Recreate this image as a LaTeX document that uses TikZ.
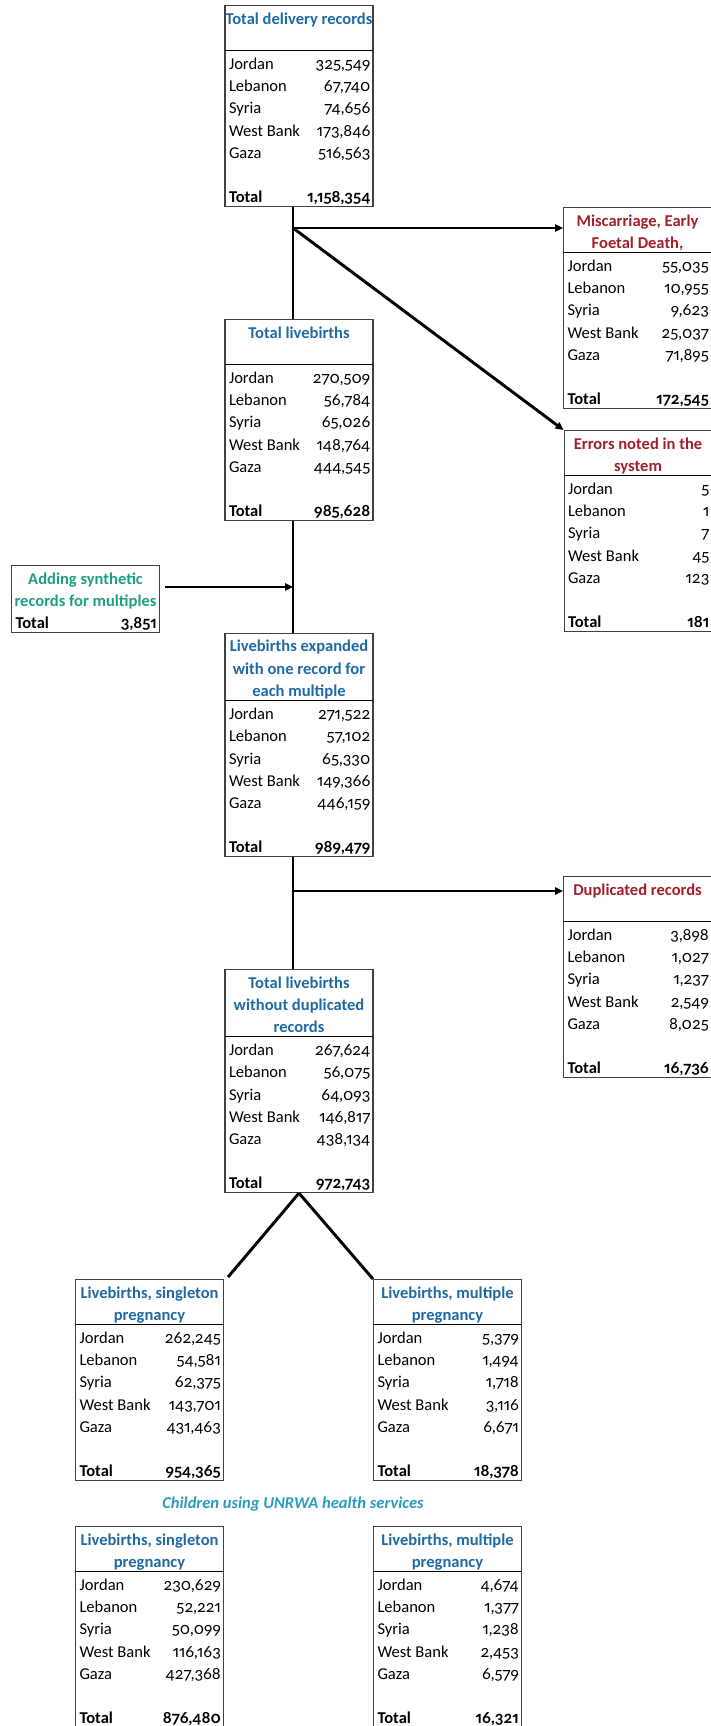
\documentclass[tikz,border=0pt]{standalone}
\usepackage{fontspec}
\setmainfont{Carlito}
\newfontfamily\nf{Lato}[Numbers={OldStyle,Proportional}, Scale=0.98]
\usepackage{array}
\usepackage{tikz}
\usetikzlibrary{arrows.meta, positioning, calc}

\definecolor{hdblue}{RGB}{31,106,165}
\definecolor{hdred}{RGB}{163,32,42}
\definecolor{hdgreen}{RGB}{30,160,130}
\definecolor{capcyan}{RGB}{42,155,192}

\setlength{\arrayrulewidth}{0.8pt}
\renewcommand{\arraystretch}{0.5}
\newcommand{\rowstrut}{\rule[-2.75pt]{0pt}{16.65pt}}
\newcolumntype{L}{>{\rowstrut}p{56pt}}
\newcolumntype{R}{>{\raggedleft\arraybackslash\nf}p{50pt}}
% header line spanning both columns
\newcommand{\hd}[2]{\multicolumn{2}{@{}>{\rowstrut\color{#1}\bfseries}c@{}}{\makebox[0pt]{#2}}}
% the five fields and the total
\newcommand{\rows}[6]{\hline Jordan & #1\\ Lebanon & #2\\ Syria & #3\\ West Bank & #4\\ Gaza & #5\\ & \\ \textbf{Total} & \textbf{#6}}
\newenvironment{ctab}{\begin{tabular}{@{\hspace{3pt}}L@{}R@{\hspace{2pt}}}}{\end{tabular}}

\begin{document}
\begin{tikzpicture}[
  x=0.75pt, y=-0.75pt,
  tbox/.style={draw=black!75, line width=0.8pt, inner sep=0pt, font=\fontsize{12.4pt}{14pt}\selectfont},
  link/.style={line width=2.2pt},
  arr/.style={link, -{Triangle[length=6pt, width=5.5pt]}},
  node distance=84pt
]
\useasboundingbox (0,0) rectangle (710,1726);
\coordinate (spine) at (293,0);

% main column
\node[tbox, anchor=north] (delivery) at (299,5) {\begin{ctab}
  \hd{hdblue}{Total delivery records}\\ \hd{hdblue}{}\\
  \rows{325,549}{67,740}{74,656}{173,846}{516,563}{1,158,354}
\end{ctab}};
\node[tbox, below=of delivery] (live) {\begin{ctab}
  \hd{hdblue}{Total livebirths}\\ \hd{hdblue}{}\\
  \rows{270,509}{56,784}{65,026}{148,764}{444,545}{985,628}
\end{ctab}};
\node[tbox, below=of live] (expanded) {\begin{ctab}
  \hd{hdblue}{Livebirths expanded}\\ \hd{hdblue}{with one record for}\\ \hd{hdblue}{each multiple}\\
  \rows{271,522}{57,102}{65,330}{149,366}{446,159}{989,479}
\end{ctab}};
\node[tbox, below=of expanded] (nodup) {\begin{ctab}
  \hd{hdblue}{Total livebirths}\\ \hd{hdblue}{without duplicated}\\ \hd{hdblue}{records}\\
  \rows{267,624}{56,075}{64,093}{146,817}{438,134}{972,743}
\end{ctab}};

% side boxes
\node[tbox, anchor=north west] (misc) at (563,207) {\begin{ctab}
  \hd{hdred}{Miscarriage, Early}\\ \hd{hdred}{Foetal Death,}\\
  \rows{55,035}{10,955}{9,623}{25,037}{71,895}{172,545}
\end{ctab}};
\node[tbox, anchor=north west] (errors) at (563.5,430) {\begin{ctab}
  \hd{hdred}{Errors noted in the}\\ \hd{hdred}{system}\\
  \rows{5}{1}{7}{45}{123}{181}
\end{ctab}};
\node[tbox, anchor=north west] (dup) at (563,876) {\begin{ctab}
  \hd{hdred}{Duplicated records}\\ \hd{hdred}{}\\
  \rows{3,898}{1,027}{1,237}{2,549}{8,025}{16,736}
\end{ctab}};
\node[tbox, anchor=north west] (adding) at (11,565) {\begin{ctab}
  \hd{hdgreen}{Adding synthetic}\\ \hd{hdgreen}{records for multiples}\\
  \textbf{Total} & \textbf{3,851}
\end{ctab}};

% split by pregnancy
\node[tbox, anchor=north west] (single) at (75,1279) {\begin{ctab}
  \hd{hdblue}{Livebirths, singleton}\\ \hd{hdblue}{pregnancy}\\
  \rows{262,245}{54,581}{62,375}{143,701}{431,463}{954,365}
\end{ctab}};
\node[tbox, anchor=north west] (multi) at (373,1279) {\begin{ctab}
  \hd{hdblue}{Livebirths, multiple}\\ \hd{hdblue}{pregnancy}\\
  \rows{5,379}{1,494}{1,718}{3,116}{6,671}{18,378}
\end{ctab}};
\node[font=\fontsize{12.4pt}{14pt}\selectfont\bfseries\itshape, text=capcyan] (caption) at (293,1504) {Children using UNRWA health services};
\node[tbox, anchor=north west] (single2) at (75,1526) {\begin{ctab}
  \hd{hdblue}{Livebirths, singleton}\\ \hd{hdblue}{pregnancy}\\
  \rows{230,629}{52,221}{50,099}{116,163}{427,368}{876,480}
\end{ctab}};
\node[tbox, anchor=north west] (multi2) at (373,1526) {\begin{ctab}
  \hd{hdblue}{Livebirths, multiple}\\ \hd{hdblue}{pregnancy}\\
  \rows{4,674}{1,377}{1,238}{2,453}{6,579}{16,321}
\end{ctab}};

% connectors
\coordinate (split) at (293,228);
\coordinate (feed) at (165,587);
\coordinate (split2) at (293,891);

\draw[link] (delivery.south -| spine) -- (live.north -| spine);
\draw[arr] (split) -- (split -| misc.west);
\draw[arr] (split) -- (errors.north west);
\draw[link] (live.south -| spine) -- (expanded.north -| spine);
\draw[arr] (feed) -- (feed -| spine);
\draw[link] (expanded.south -| spine) -- (nodup.north -| spine);
\draw[arr] (split2) -- (split2 -| dup.west);
\draw[link] (nodup.south) -- ($(single.north east)+(4,-2)$);
\draw[link] (nodup.south) -- (multi.north west);
\end{tikzpicture}
\end{document}
